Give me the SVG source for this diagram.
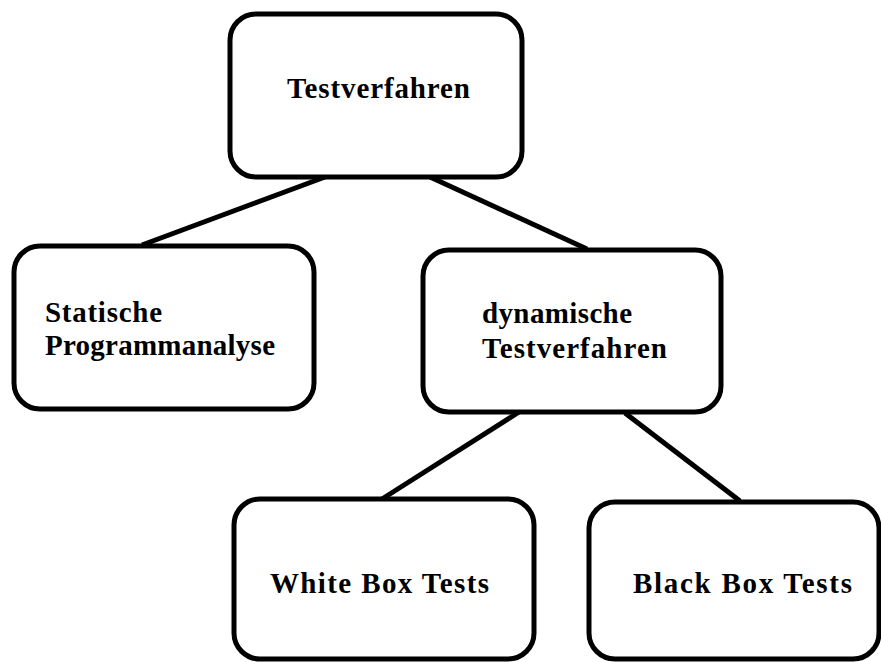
<svg xmlns="http://www.w3.org/2000/svg" width="881" height="662" viewBox="0 0 881 662">
<style>
.box{fill:#fff;stroke:#000;stroke-width:5}
.lbl{font-family:"Liberation Serif","Times New Roman",serif;font-weight:bold;font-size:29px;fill:#000}
.edge{stroke:#000;stroke-width:5;fill:none}
</style>
<rect width="881" height="662" fill="#fff"/>
<g id="connectors">
<line class="edge" x1="325" y1="177" x2="142" y2="245"/>
<line class="edge" x1="430" y1="177" x2="587" y2="249"/>
<line class="edge" x1="519" y1="412" x2="382" y2="499"/>
<line class="edge" x1="625" y1="413" x2="740" y2="501"/>
</g>
<g id="testverfahren">
<rect class="box" x="230" y="14" width="292" height="163" rx="26"/>
<text class="lbl" x="287" y="98" textLength="183" lengthAdjust="spacing">Testverfahren</text>
</g>
<g id="statische">
<rect class="box" x="14" y="246" width="300" height="163" rx="26"/>
<text class="lbl" x="45" y="322" textLength="117" lengthAdjust="spacing">Statische</text>
<text class="lbl" x="45" y="355" textLength="230" lengthAdjust="spacing">Programmanalyse</text>
</g>
<g id="dynamische">
<rect class="box" x="423" y="250" width="298" height="162" rx="26"/>
<text class="lbl" x="482" y="323" textLength="150" lengthAdjust="spacing">dynamische</text>
<text class="lbl" x="482" y="358" textLength="185" lengthAdjust="spacing">Testverfahren</text>
</g>
<g id="whitebox">
<rect class="box" x="234" y="499" width="300" height="160" rx="26"/>
<text class="lbl" x="270" y="593" textLength="219" lengthAdjust="spacing">White Box Tests</text>
</g>
<g id="blackbox">
<rect class="box" x="589" y="502" width="290" height="157" rx="26"/>
<text class="lbl" x="633" y="593" textLength="219" lengthAdjust="spacing">Black Box Tests</text>
</g>
</svg>
